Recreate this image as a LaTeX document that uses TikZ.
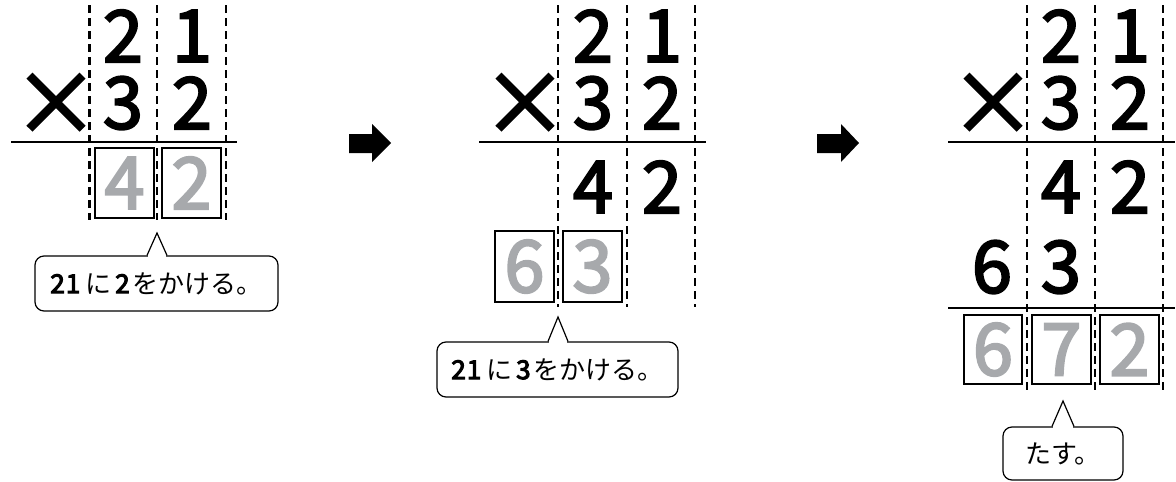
\documentclass[tikz,border=0pt]{standalone}
\usepackage{fontspec}
\setmainfont{Noto Sans CJK JP}
\newfontfamily\digfont{Noto Sans CJK JP}[FakeBold=3]
\newfontfamily\calldig{Noto Sans CJK JP}[FakeBold=4]
\usetikzlibrary{calc}
\definecolor{digitgray}{HTML}{A7A9AC}
\begin{document}
\begin{tikzpicture}[x=1pt,y=-1pt,
  dig/.style={font=\digfont\fontsize{72}{72}\selectfont, inner sep=0pt},
  gdig/.style={dig, text=digitgray},
  timesign/.style={font=\digfont\fontsize{86}{86}\selectfont, inner sep=0pt},
  cell/.style={draw, line width=2.4pt, minimum width=59pt, minimum height=70pt, inner sep=0pt},
  colline/.style={line width=2.4pt, dash pattern=on 8pt off 5pt},
  rulel/.style={line width=1.4pt},
  callnode/.style={draw, line width=1.2pt, rounded corners=9pt, inner sep=0pt, font=\fontsize{26}{26}\selectfont},
  pointer/.style={line width=1.2pt, line join=miter},
  blockarrow/.style={fill=black}
]
\useasboundingbox (0,0) rectangle (1176,482);

% ---------- panel 1 ----------
\foreach \x in {89.5,157,226} \draw[colline] (\x,5) -- (\x,220);
\draw[rulel] (11,142) -- (237,142);
\node[timesign] (m1) at (56,104.5) {×};
\node[dig] (a1t) at (123,36) {2};
\node[dig] (a1o) at (192,36) {1};
\node[dig] (b1t) at (123,103) {3};
\node[dig] (b1o) at (192,103) {2};
\node[cell,gdig] (r1t) at (124.5,183) {4};
\node[cell,gdig] (r1o) at (191.5,183) {2};
\node[callnode, minimum width=243pt, minimum height=55pt] (c1) at (156.5,283.5)
  {{\calldig 2\hspace{1pt}1}\hspace{5pt}に\hspace{4pt}{\calldig 2}\hspace{3pt}をかける。};
\coordinate (tip1) at (157,233);
\coordinate (base1) at (tip1 |- c1.north);
\fill[white] ([xshift=-9pt,yshift=-1.5pt]base1) rectangle ([xshift=9pt,yshift=1.5pt]base1);
\draw[pointer] ([xshift=-10pt]base1) -- (tip1) -- ([xshift=10pt]base1);

% arrow 1
\fill[blockarrow] (349,134) -- (372,134) -- (372,124) -- (391,143) -- (372,162) -- (372,153) -- (349,153) -- cycle;

% ---------- panel 2 ----------
\foreach \x in {558,627,695} \draw[colline] (\x,5) -- (\x,307);
\draw[rulel] (479,142) -- (706,142);
\node[timesign] (m2) at (525,104.5) {×};
\node[dig] (a2t) at (593,36) {2};
\node[dig] (a2o) at (662,36) {1};
\node[dig] (b2t) at (593,103) {3};
\node[dig] (b2o) at (662,103) {2};
\node[dig] (p2t) at (593,187) {4};
\node[dig] (p2o) at (662,187) {2};
\node[cell,gdig,minimum height=71pt] (r2h) at (524.5,266.5) {6};
\node[cell,gdig,minimum height=71pt] (r2t) at (592.5,266.5) {3};
\node[callnode, minimum width=241pt, minimum height=55pt] (c2) at (557.5,369.5)
  {{\calldig 2\hspace{1pt}1}\hspace{5pt}に\hspace{4pt}{\calldig 3}\hspace{3pt}をかける。};
\coordinate (tip2) at (558,317);
\coordinate (base2) at (tip2 |- c2.north);
\fill[white] ([xshift=-9pt,yshift=-1.5pt]base2) rectangle ([xshift=9pt,yshift=1.5pt]base2);
\draw[pointer] ([xshift=-10pt]base2) -- (tip2) -- ([xshift=10pt]base2);

% arrow 2
\fill[blockarrow] (817,134) -- (841,134) -- (841,124) -- (859,143) -- (841,162) -- (841,153) -- (817,153) -- cycle;

% ---------- panel 3 ----------
\foreach \x in {1027,1095,1163} \draw[colline] (\x,5) -- (\x,390);
\draw[rulel] (948,142) -- (1175,142);
\draw[rulel] (948,308) -- (1175,308);
\node[timesign] (m3) at (993,104.5) {×};
\node[dig] (a3t) at (1061,36) {2};
\node[dig] (a3o) at (1130,36) {1};
\node[dig] (b3t) at (1061,103) {3};
\node[dig] (b3o) at (1130,103) {2};
\node[dig] (p3t) at (1061,187) {4};
\node[dig] (p3o) at (1130,187) {2};
\node[dig] (q3h) at (992,267) {6};
\node[dig] (q3t) at (1061,267) {3};
\node[cell,gdig,minimum width=58pt,minimum height=69pt] (r3h) at (993,349.5) {6};
\node[cell,gdig,minimum width=59pt,minimum height=69pt] (r3t) at (1061.5,349.5) {7};
\node[cell,gdig,minimum width=59pt,minimum height=69pt] (r3o) at (1129.5,349.5) {2};
\node[callnode, minimum width=120pt, minimum height=53pt] (c3) at (1063,453.5) {たす。};
\coordinate (tip3) at (1063,401);
\coordinate (base3) at (tip3 |- c3.north);
\fill[white] ([xshift=-10pt,yshift=-1.5pt]base3) rectangle ([xshift=10pt,yshift=1.5pt]base3);
\draw[pointer] ([xshift=-11pt]base3) -- (tip3) -- ([xshift=11pt]base3);
\end{tikzpicture}
\end{document}
